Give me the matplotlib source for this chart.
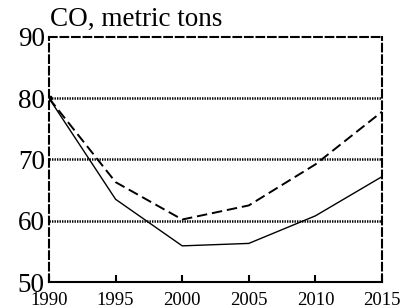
import matplotlib
matplotlib.use("Agg")
import matplotlib.pyplot as plt

plt.rcParams["font.family"] = ["Liberation Serif", "DejaVu Serif"]
plt.rcParams["lines.scale_dashes"] = False

years = [1990, 1995, 2000, 2005, 2010, 2015]
co_solid = [80.0, 63.5, 55.9, 56.3, 60.8, 67.2]
co_dashed = [80.0, 66.3, 60.2, 62.5, 69.2, 77.8]
y_ticks = [50, 60, 70, 80, 90]
grid_levels = [60, 70, 80]

fig = plt.figure(figsize=(4.07, 3.08), dpi=100)
ax = fig.add_axes([0.1204, 0.0844, 0.8182, 0.7956])

for g in grid_levels:
    ax.axhline(g, color="black", lw=1.8, linestyle=(0, (1, 0.8)), zorder=1)

ax.plot(years, co_solid, color="black", lw=1.0, zorder=3)
ax.plot(years, co_dashed, color="black", lw=1.4, linestyle=(0, (7.5, 3.5)), zorder=3)
ax.plot([years[0]], [co_solid[0]], marker="s", ms=3, color="black", zorder=4)

ax.set_xlim(1990, 2015)
ax.set_ylim(50, 90)
ax.set_xticks(years)
ax.set_yticks(y_ticks)
ax.tick_params(axis="x", direction="in", length=5, width=1.5, pad=7.5, labelsize=13.5)
ax.tick_params(axis="y", length=0, pad=3, labelsize=19.5)

for side in ("left", "right", "top"):
    ax.spines[side].set_linestyle((0, (5.5, 2.8)))
    ax.spines[side].set_linewidth(1.5)
ax.spines["bottom"].set_linewidth(1.5)

fig.text(50 / 407, 1 - 26 / 308, "CO, metric tons", fontsize=19.5, ha="left", va="baseline")

fig.savefig("out.png", dpi=100)
